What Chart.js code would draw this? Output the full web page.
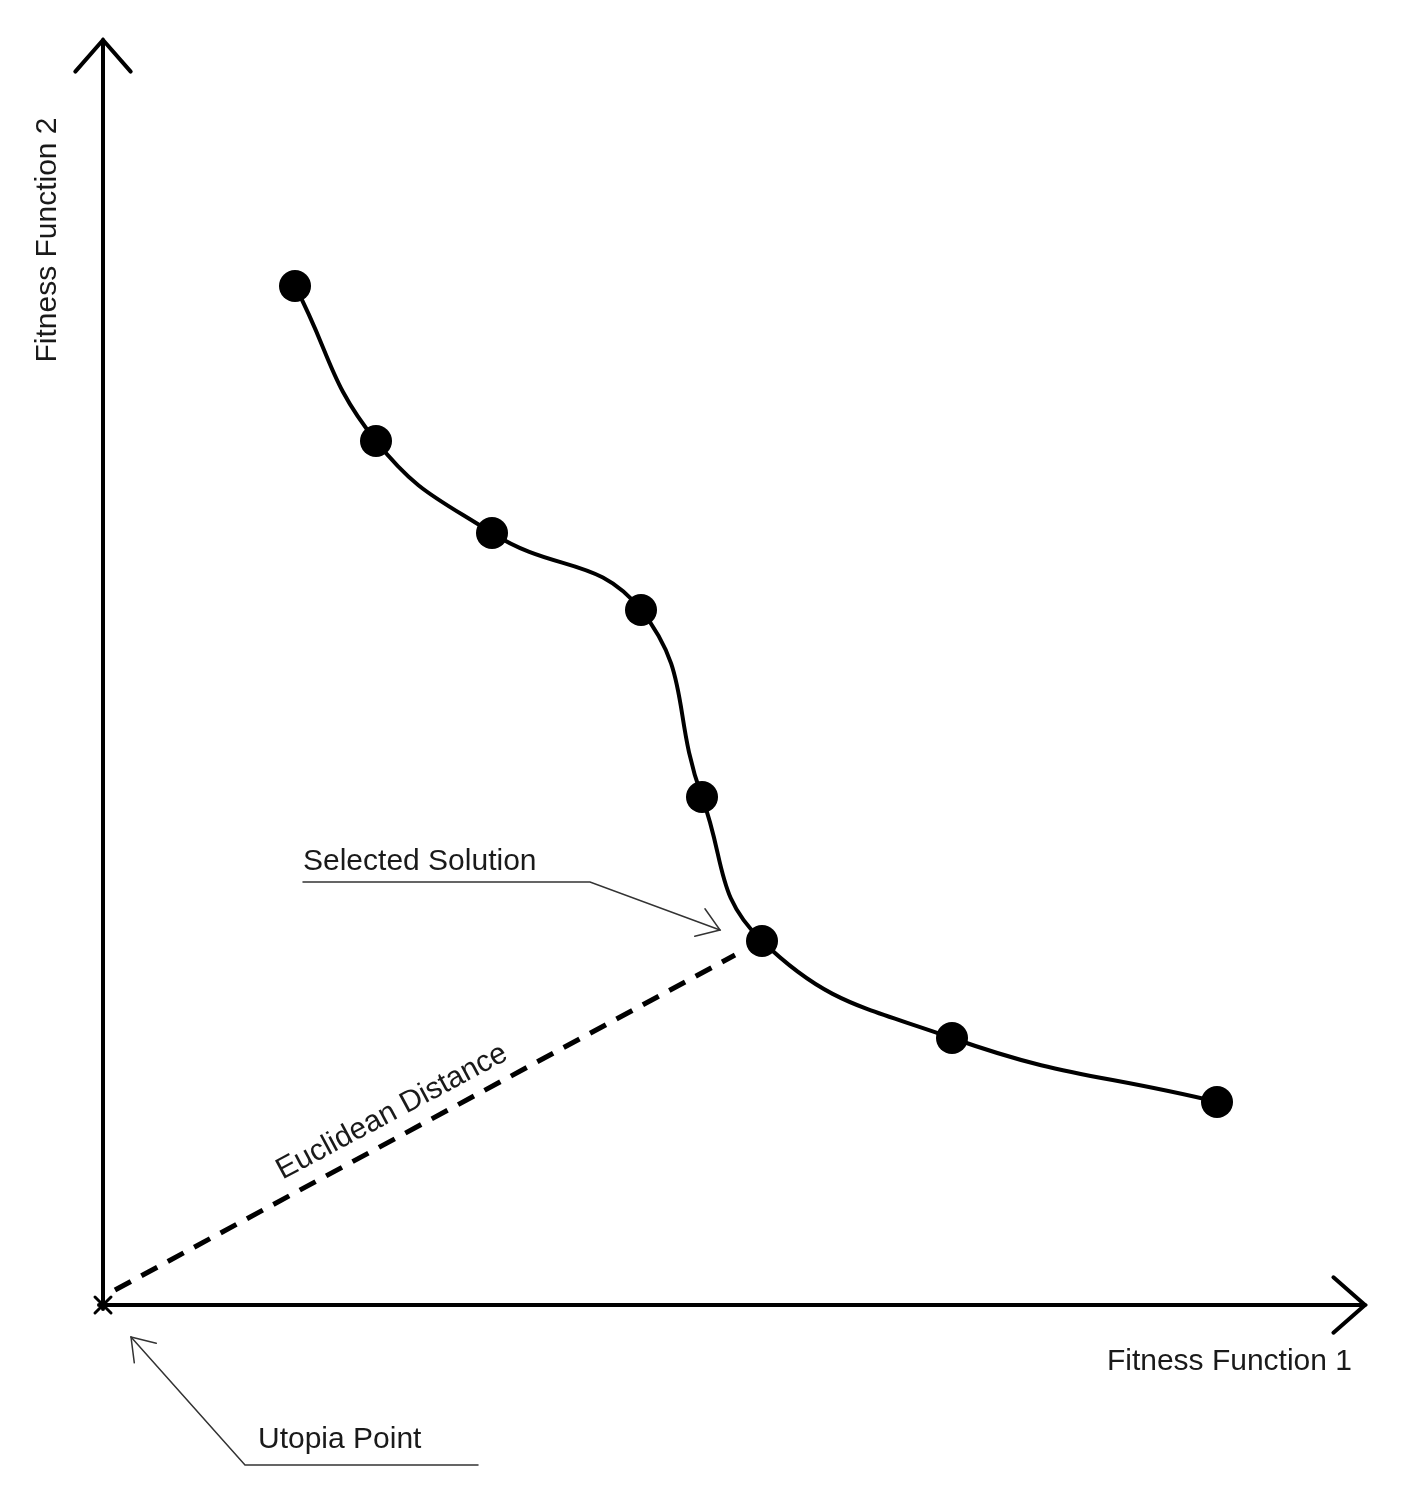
<!DOCTYPE html>
<html><head><meta charset="utf-8">
<script src="https://cdn.jsdelivr.net/npm/chart.js@4"></script>
<style>html,body{margin:0;background:#fff}#c{display:block}</style>
</head><body>
<div style="width:1405px;height:1493px"><canvas id="c"></canvas></div>
<script>
// pareto front points (units: distance from utopia point)
const frontX = [192, 273, 389, 538, 599, 659, 849, 1114];
const frontY = [1019, 864, 772, 695, 508, 364, 267, 203];
// euclidean distance segment (utopia -> selected solution)
const distX = [12, 632];
const distY = [15, 350];
const xLabel = "Fitness Function 1";
const yLabel = "Fitness Function 2";

const FONT = '30px "Liberation Sans", Arial, sans-serif';

function arrowHead(ctx, x, y, ang, len, spread) {
    ctx.beginPath();
    ctx.moveTo(x - len*Math.cos(ang - spread), y - len*Math.sin(ang - spread));
    ctx.lineTo(x, y);
    ctx.lineTo(x - len*Math.cos(ang + spread), y - len*Math.sin(ang + spread));
    ctx.stroke();
}

const decor = {
    id: 'decor',
    afterDatasetsDraw(chart) {
        const ctx = chart.ctx, sx = chart.scales.x, sy = chart.scales.y;
        const ox = sx.getPixelForValue(0), oy = sy.getPixelForValue(0);
        const ex = sx.getPixelForValue(sx.max), ty = sy.getPixelForValue(sy.max);
        ctx.save();
        ctx.strokeStyle = '#000'; ctx.lineWidth = 4; ctx.lineCap = 'round';
        // axes with open arrowheads
        ctx.beginPath(); ctx.moveTo(ox - 4, oy); ctx.lineTo(ex, oy); ctx.stroke();
        ctx.beginPath(); ctx.moveTo(ox, oy + 4); ctx.lineTo(ox, ty); ctx.stroke();
        arrowHead(ctx, ex, oy, 0, 42, 0.72);
        arrowHead(ctx, ox, ty, -Math.PI/2, 42, 0.72);
        // small cross at utopia
        ctx.lineWidth = 3;
        ctx.beginPath(); ctx.moveTo(ox-8, oy-8); ctx.lineTo(ox+8, oy+8);
        ctx.moveTo(ox+8, oy-8); ctx.lineTo(ox-8, oy+8); ctx.stroke();

        ctx.fillStyle = '#1a1a1a'; ctx.font = FONT;
        ctx.textBaseline = 'middle';
        ctx.textAlign = 'right';
        ctx.fillText(xLabel, 1352, 1362);
        ctx.save(); ctx.translate(48, 240); ctx.rotate(-Math.PI/2);
        ctx.textAlign = 'center'; ctx.fillText(yLabel, 0, 0); ctx.restore();

        // Selected Solution callout
        ctx.textAlign = 'left';
        ctx.fillText('Selected Solution', 303, 862);
        ctx.lineWidth = 1.5; ctx.strokeStyle = '#333';
        ctx.beginPath(); ctx.moveTo(303, 882); ctx.lineTo(590, 882); ctx.lineTo(720, 930); ctx.stroke();
        arrowHead(ctx, 720, 930, Math.atan2(48, 130), 26, 0.6);

        // Utopia Point callout
        ctx.fillText('Utopia Point', 258, 1440);
        ctx.beginPath(); ctx.moveTo(478, 1465); ctx.lineTo(245, 1465); ctx.lineTo(131, 1337); ctx.stroke();
        arrowHead(ctx, 131, 1337, Math.atan2(-128, -114), 26, 0.6);

        // Euclidean Distance label along dashed line
        ctx.save(); ctx.translate(392, 1112); ctx.rotate(-0.49);
        ctx.textAlign = 'center'; ctx.fillText('Euclidean Distance', 0, 0); ctx.restore();
        ctx.restore();
    }
};

new Chart(document.getElementById('c'), {
    type: 'scatter',
    data: {
        datasets: [
            {
                data: frontX.map((x, i) => ({x, y: frontY[i]})),
                showLine: true, tension: 0.45, borderColor: '#000', borderWidth: 4,
                pointRadius: 16, pointBackgroundColor: '#000', pointBorderWidth: 0
            },
            {
                data: distX.map((x, i) => ({x, y: distY[i]})),
                showLine: true, borderColor: '#000', borderWidth: 5,
                borderDash: [18, 12], pointRadius: 0
            }
        ]
    },
    options: {
        responsive: true, maintainAspectRatio: false, animation: false,
        layout: { padding: { left: 103, right: 40, top: 40, bottom: 188 } },
        plugins: { legend: { display: false }, tooltip: { enabled: false } },
        scales: {
            x: { type: 'linear', min: 0, max: 1262, display: false },
            y: { type: 'linear', min: 0, max: 1265, display: false }
        }
    },
    plugins: [decor]
});
</script>
</body></html>
